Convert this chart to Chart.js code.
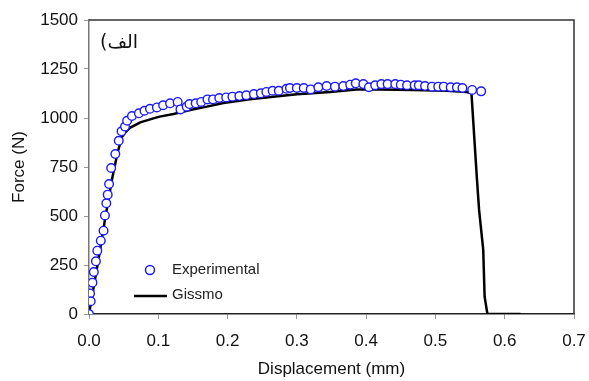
<!DOCTYPE html>
<html>
<head>
<meta charset="utf-8">
<script src="https://cdn.jsdelivr.net/npm/chart.js@4.4.1/dist/chart.umd.min.js"></script>
<style>
  html, body { margin: 0; padding: 0; background: #fff; }
  #wrap { width: 589px; height: 381px; }
</style>
</head>
<body>
<div id="wrap"><canvas id="chart" width="589" height="381"></canvas></div>
<script>
// ── Datos ────────────────────────────────────────────────────────────────────
const expDisp = [0, 0.0015, 0.0025, 0.005, 0.007, 0.010, 0.012, 0.017, 0.021, 0.023,
    0.025, 0.027, 0.029, 0.032, 0.038, 0.043, 0.047, 0.052, 0.055, 0.062,
    0.072, 0.080, 0.088, 0.098, 0.107, 0.117, 0.128, 0.132, 0.141, 0.145,
    0.154, 0.162, 0.171, 0.179, 0.188, 0.198, 0.207, 0.217, 0.227, 0.238,
    0.248, 0.256, 0.265, 0.274, 0.285, 0.290, 0.300, 0.310, 0.320, 0.331,
    0.343, 0.355, 0.367, 0.377, 0.385, 0.396, 0.404, 0.413, 0.422, 0.431,
    0.442, 0.450, 0.459, 0.470, 0.476, 0.485, 0.495, 0.504, 0.512, 0.522,
    0.531, 0.539, 0.553, 0.566];
const expForce = [0, 105, 65, 160, 214, 269, 323, 374, 425, 503,
    565, 609, 663, 745, 816, 884, 932, 956, 986, 1010,
    1024, 1037, 1047, 1054, 1065, 1075, 1082, 1044, 1058, 1071,
    1075, 1082, 1095, 1095, 1102, 1105, 1109, 1112, 1116, 1122,
    1126, 1133, 1139, 1139, 1149, 1153, 1153, 1153, 1146, 1157,
    1163, 1160, 1163, 1170, 1177, 1173, 1157, 1167, 1173, 1173,
    1173, 1170, 1167, 1167, 1167, 1163, 1160, 1160, 1160, 1157,
    1157, 1153, 1143, 1136];

const gisDisp  = [0, 0.0135, 0.023, 0.033, 0.041, 0.045, 0.047, 0.052, 0.059, 0.074,
    0.093, 0.102, 0.122, 0.146, 0.170, 0.194, 0.232, 0.276, 0.300, 0.348,
    0.386, 0.420, 0.468, 0.516, 0.545, 0.552, 0.560, 0.563, 0.569, 0.571,
    0.575, 0.623];
const gisForce = [0, 275, 480, 684, 820, 871, 900, 925, 950, 978,
    998, 1007, 1020, 1041, 1058, 1077, 1095, 1112, 1121, 1133,
    1146, 1146, 1143, 1139, 1133, 1126, 684, 531, 327, 88,
    0, 0];

const xTicks = { min: 0, max: 0.7, step: 0.1 };
const yTicks = { min: 0, max: 1500, step: 250 };

const panelLabel = 'الف)';
const seriesNames = ['Experimental', 'Gissmo'];

// ── Estilos ──────────────────────────────────────────────────────────────────
const AZUL  = '#1a1aff';
const NEGRO = '#000000';
const FUENTE = "'Liberation Sans', Arial, sans-serif";

const toPoints = (xs, ys) => xs.map((x, i) => ({ x, y: ys[i] }));

// marco superior/derecho + leyenda + etiqueta del panel
const extrasPlugin = {
    id: 'extras',
    afterDraw(chart) {
        const { ctx, chartArea: a } = chart;
        ctx.save();
        // marco
        ctx.strokeStyle = '#333';
        ctx.lineWidth = 1.5;
        ctx.beginPath();
        ctx.moveTo(a.left, a.top);
        ctx.lineTo(a.right, a.top);
        ctx.lineTo(a.right, a.bottom);
        ctx.stroke();

        // leyenda
        ctx.font = '15px ' + FUENTE;
        ctx.fillStyle = '#222';
        ctx.textBaseline = 'middle';
        ctx.textAlign = 'left';
        ctx.strokeStyle = AZUL;
        ctx.lineWidth = 1.5;
        ctx.beginPath();
        ctx.arc(150, 270, 4.5, 0, Math.PI * 2);
        ctx.stroke();
        ctx.fillText(seriesNames[0], 172, 270);

        ctx.strokeStyle = NEGRO;
        ctx.lineWidth = 2.5;
        ctx.beginPath();
        ctx.moveTo(134, 296);
        ctx.lineTo(167, 296);
        ctx.stroke();
        ctx.fillText(seriesNames[1], 172, 295);

        // etiqueta del panel (árabe, RTL)
        ctx.direction = 'rtl';
        ctx.textAlign = 'left';
        ctx.font = "19px 'DejaVu Sans', sans-serif";
        ctx.fillStyle = '#111';
        ctx.fillText(panelLabel, 100, 43);
        ctx.restore();
    }
};

new Chart(document.getElementById('chart'), {
    type: 'scatter',
    data: {
        datasets: [
            {
                label: seriesNames[0],
                data: toPoints(expDisp, expForce),
                showLine: false,
                pointRadius: 4.3,
                pointBorderWidth: 1.4,
                pointBorderColor: AZUL,
                pointBackgroundColor: '#ffffff',
                order: 0
            },
            {
                label: seriesNames[1],
                data: toPoints(gisDisp, gisForce),
                showLine: true,
                borderColor: NEGRO,
                borderWidth: 2.5,
                pointRadius: 0,
                tension: 0,
                order: 1
            }
        ]
    },
    options: {
        responsive: false,
        animation: false,
        layout: { padding: { top: 20, right: 15, left: 0, bottom: 0 } },
        plugins: {
            legend: { display: false },
            tooltip: { enabled: false }
        },
        scales: {
            x: {
                type: 'linear',
                min: xTicks.min,
                max: xTicks.max,
                afterFit: s => { s.height = 67; s.paddingLeft = 0; s.paddingRight = 0; },
                border: { color: '#222', width: 1.5 },
                grid: { drawOnChartArea: false, drawTicks: true, tickLength: 5, color: '#999' },
                ticks: {
                    stepSize: xTicks.step,
                    padding: 12,
                    color: '#111',
                    font: { family: FUENTE, size: 17 },
                    callback: v => v.toFixed(1)
                },
                title: {
                    display: true,
                    text: 'Displacement (mm)',
                    color: '#111',
                    font: { family: FUENTE, size: 17 },
                    padding: { top: 0, bottom: 1 }
                }
            },
            y: {
                type: 'linear',
                min: yTicks.min,
                max: yTicks.max,
                afterFit: s => { s.width = 89; s.paddingTop = 0; s.paddingBottom = 0; },
                border: { color: '#777', width: 1.5 },
                grid: { drawOnChartArea: false, drawTicks: true, tickLength: 5, color: '#999' },
                ticks: {
                    stepSize: yTicks.step,
                    padding: 6,
                    color: '#111',
                    font: { family: FUENTE, size: 17 },
                    callback: v => String(v)
                },
                title: {
                    display: true,
                    text: 'Force (N)',
                    color: '#111',
                    font: { family: FUENTE, size: 17 },
                    padding: { top: 9, bottom: 0 }
                }
            }
        }
    },
    plugins: [extrasPlugin]
});
</script>
</body>
</html>
